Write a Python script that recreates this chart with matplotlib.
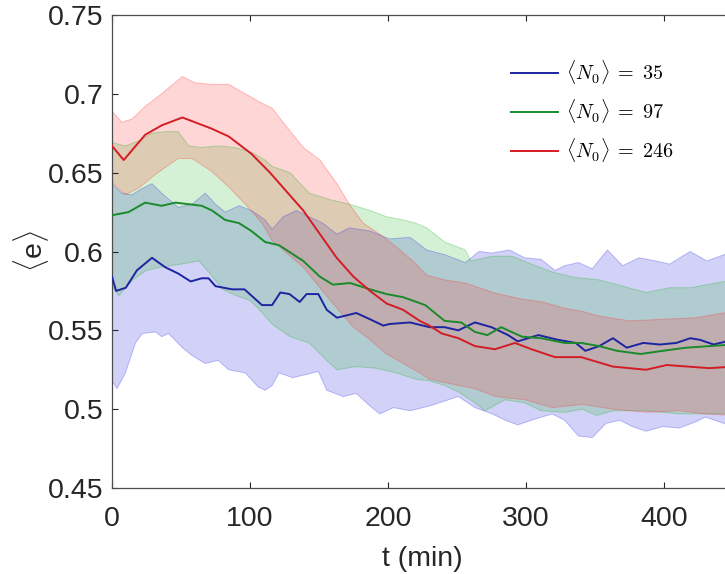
import matplotlib
matplotlib.use('Agg')
import matplotlib.pyplot as plt

plt.rcParams['font.family'] = ['Liberation Sans', 'DejaVu Sans']
plt.rcParams['mathtext.fontset'] = 'cm'

# mean curves (t in min)
t_blue = [0, 3, 10, 18, 29, 38.6, 48, 57, 65, 70, 75, 87, 96, 108.7, 116, 122, 128.6, 136, 141, 149.5,
          155.6, 163, 177, 187, 196.6, 201, 216, 230, 241, 251, 263, 275, 287, 294, 309, 323, 336, 343,
          353, 363, 373, 385, 397, 409, 419, 426, 436, 450]
e_blue = [0.584, 0.575, 0.577, 0.588, 0.596, 0.590, 0.586, 0.581, 0.583, 0.583, 0.578, 0.576, 0.576, 0.566,
          0.566, 0.574, 0.573, 0.568, 0.573, 0.573, 0.563, 0.558, 0.561, 0.557, 0.553, 0.554, 0.555, 0.552,
          0.552, 0.550, 0.555, 0.552, 0.547, 0.543, 0.547, 0.544, 0.542, 0.537, 0.540, 0.545, 0.539, 0.542,
          0.541, 0.542, 0.545, 0.544, 0.541, 0.544]

t_green = [0, 12, 24, 36, 46, 55.6, 65, 72.5, 82, 92, 101, 111, 121, 138.6, 150.7, 160, 172.5, 187, 199,
           211, 227, 241, 253, 263, 272, 282, 297, 311, 328, 340, 353, 366, 383, 399, 416, 450]
e_green = [0.623, 0.625, 0.631, 0.629, 0.631, 0.630, 0.629, 0.626, 0.620, 0.618, 0.613, 0.606, 0.604, 0.594,
           0.584, 0.579, 0.580, 0.576, 0.573, 0.571, 0.566, 0.556, 0.555, 0.549, 0.547, 0.552, 0.546, 0.545,
           0.542, 0.542, 0.540, 0.537, 0.535, 0.537, 0.539, 0.541]

t_red = [0, 8.5, 24, 36, 51, 72, 84.5, 101, 114.5, 138.6, 162.8, 175, 187, 199, 211, 223, 230, 239, 251,
         263, 277.5, 292, 304, 321, 340, 363, 387, 402, 433, 450]
e_red = [0.667, 0.658, 0.674, 0.680, 0.685, 0.678, 0.673, 0.662, 0.650, 0.626, 0.596, 0.584, 0.575, 0.567,
         0.563, 0.556, 0.553, 0.548, 0.545, 0.540, 0.538, 0.542, 0.538, 0.533, 0.533, 0.527, 0.525, 0.528,
         0.526, 0.527]

# shaded bands: upper and lower edges
t_blue_hi = [0, 7, 14.5, 22, 29, 36, 48, 58, 67.6, 75, 82, 92, 101, 111, 116, 124, 133.6, 143, 152.6, 163,
             172, 187, 201, 216, 228, 241, 256, 266, 275.5, 288, 299, 311, 321, 328, 338, 348, 359, 370,
             382, 394, 404, 419, 431, 450]
e_blue_hi = [0.643, 0.637, 0.636, 0.640, 0.643, 0.637, 0.628, 0.630, 0.637, 0.630, 0.625, 0.629, 0.626,
             0.620, 0.614, 0.622, 0.626, 0.622, 0.618, 0.611, 0.615, 0.613, 0.608, 0.609, 0.601, 0.598,
             0.593, 0.600, 0.599, 0.601, 0.596, 0.595, 0.588, 0.591, 0.593, 0.589, 0.601, 0.591, 0.596,
             0.594, 0.592, 0.600, 0.594, 0.600]
t_blue_lo = [0, 3.6, 9.7, 17, 22, 31.6, 36, 41, 51, 58, 67.6, 77, 84.5, 96.6, 106, 111, 116, 121, 131, 141,
             149.5, 155.6, 167.6, 177, 187, 194, 204, 216, 230, 251, 263, 275.5, 285, 294, 304, 319, 328,
             338, 348, 358, 368, 377, 387, 399, 411, 423, 430, 450]
e_blue_lo = [0.518, 0.513, 0.523, 0.542, 0.548, 0.549, 0.546, 0.548, 0.539, 0.534, 0.529, 0.531, 0.525,
             0.523, 0.514, 0.512, 0.515, 0.523, 0.520, 0.522, 0.524, 0.512, 0.508, 0.510, 0.502, 0.497,
             0.501, 0.499, 0.502, 0.508, 0.501, 0.497, 0.493, 0.490, 0.493, 0.497, 0.493, 0.483, 0.482,
             0.491, 0.493, 0.489, 0.486, 0.489, 0.488, 0.492, 0.495, 0.489]

t_green_hi = [0, 9.7, 19, 29, 38.6, 48, 55.6, 65, 77, 89, 101, 111, 116, 129, 143, 157.5, 172, 187, 199,
              211, 220, 228, 241, 256, 260, 275.5, 290, 304, 319, 333, 341, 353, 370, 387, 404, 419, 450]
e_green_hi = [0.669, 0.667, 0.670, 0.675, 0.676, 0.676, 0.667, 0.666, 0.667, 0.666, 0.663, 0.658, 0.654,
              0.650, 0.637, 0.633, 0.630, 0.626, 0.622, 0.620, 0.618, 0.615, 0.606, 0.601, 0.594, 0.597,
              0.597, 0.592, 0.587, 0.584, 0.583, 0.582, 0.578, 0.574, 0.577, 0.577, 0.582]
t_green_lo = [0, 5, 15, 25, 35, 50, 63, 72, 80, 90, 100, 108, 116, 129, 143, 155.6, 163, 177, 191, 206,
              220, 230, 241, 251, 263, 270, 285, 299, 311, 328, 341, 351, 363, 387, 411, 450]
e_green_lo = [0.578, 0.572, 0.582, 0.588, 0.590, 0.592, 0.594, 0.585, 0.576, 0.572, 0.569, 0.562, 0.554,
              0.546, 0.542, 0.531, 0.525, 0.527, 0.526, 0.523, 0.519, 0.518, 0.515, 0.511, 0.504, 0.499,
              0.506, 0.504, 0.499, 0.498, 0.500, 0.496, 0.499, 0.499, 0.497, 0.497]

t_red_hi = [0, 7, 14.5, 24, 36, 51, 60, 72, 84.5, 96.6, 108.7, 116, 126.6, 138.6, 150.7, 163, 172, 182,
            194, 206, 218, 228, 241, 256, 276, 295.6, 312, 328, 341, 353, 375, 399, 423, 450]
e_red_hi = [0.689, 0.682, 0.684, 0.692, 0.700, 0.711, 0.707, 0.706, 0.706, 0.700, 0.694, 0.691, 0.679,
            0.666, 0.658, 0.643, 0.630, 0.618, 0.611, 0.603, 0.594, 0.585, 0.582, 0.580, 0.574, 0.570,
            0.568, 0.564, 0.562, 0.559, 0.556, 0.557, 0.558, 0.562]
t_red_lo = [0, 9.7, 19, 31.6, 48, 58, 72, 84.5, 96.6, 108.7, 116, 138.6, 150.7, 163, 175, 187, 199, 211,
            223, 230, 246, 263, 278, 299, 319, 341, 363, 387, 411, 430, 450]
e_red_lo = [0.644, 0.636, 0.640, 0.649, 0.659, 0.659, 0.651, 0.641, 0.630, 0.618, 0.607, 0.590, 0.577,
            0.564, 0.552, 0.544, 0.535, 0.529, 0.523, 0.519, 0.516, 0.513, 0.508, 0.506, 0.501, 0.503,
            0.500, 0.498, 0.499, 0.497, 0.496]

labels = [r'$\langle N_0\rangle\;=\;35$', r'$\langle N_0\rangle\;=\;97$', r'$\langle N_0\rangle\;=\;246$']
yticks = [0.45, 0.5, 0.55, 0.6, 0.65, 0.7, 0.75]
ytick_labels = ['0.45', '0.5', '0.55', '0.6', '0.65', '0.7', '0.75']
xticks = [0, 100, 200, 300, 400]


def band(ax, t_hi, hi, t_lo, lo, color, alpha):
    # polygon: upper edge forward, lower edge backwards
    xs = list(t_hi) + list(t_lo)[::-1]
    ys = list(hi) + list(lo)[::-1]
    ax.fill(xs, ys, facecolor=color, alpha=alpha, edgecolor='none', zorder=1)
    ax.plot(t_hi, hi, color=color, alpha=0.3, lw=0.7, zorder=1.5)
    ax.plot(t_lo, lo, color=color, alpha=0.3, lw=0.7, zorder=1.5)


def plot_mean_e():
    fig = plt.figure(figsize=(7.25, 5.74), dpi=100)
    ax = fig.add_axes([112 / 725, 86 / 574, 621 / 725, 473 / 574])

    band(ax, t_blue_hi, e_blue_hi, t_blue_lo, e_blue_lo, (0.2, 0.2, 0.9), 0.22)
    band(ax, t_green_hi, e_green_hi, t_green_lo, e_green_lo, (0.1, 0.7, 0.1), 0.18)
    band(ax, t_red_hi, e_red_hi, t_red_lo, e_red_lo, (1.0, 0.2, 0.2), 0.2)

    ax.plot(t_blue, e_blue, color='#1c24a0', lw=1.4, label=labels[0], zorder=3)
    ax.plot(t_green, e_green, color='#1a8a2a', lw=1.4, label=labels[1], zorder=3)
    ax.plot(t_red, e_red, color='#d41c24', lw=1.4, label=labels[2], zorder=3)

    ax.set_xlim(0, 450)
    ax.set_ylim(0.45, 0.75)
    ax.set_xticks(xticks)
    ax.set_yticks(yticks)
    ax.set_yticklabels(ytick_labels)
    ax.tick_params(direction='in', top=True, right=True, length=4.5, width=0.8,
                   labelsize=20.5, colors='#262626')
    ax.tick_params(axis='x', pad=13)
    ax.tick_params(axis='y', pad=6)
    for s in ax.spines.values():
        s.set_color('#4d4d4d')
        s.set_linewidth(0.9)

    ax.set_xlabel('t (min)', fontsize=20.5, color='#262626', labelpad=10)
    ax.set_ylabel(r'$\langle$e$\rangle$', fontsize=20.5, color='#262626', labelpad=-2)

    ax.legend(loc='upper left', bbox_to_anchor=(511 / 725, 1 - 58 / 574),
              bbox_transform=fig.transFigure, frameon=False, fontsize=14.5,
              handlelength=2.35, handletextpad=0.4, labelspacing=0.55,
              borderpad=0, borderaxespad=0)

    plt.savefig('out.png', dpi=100)


if __name__ == "__main__":
    plot_mean_e()
